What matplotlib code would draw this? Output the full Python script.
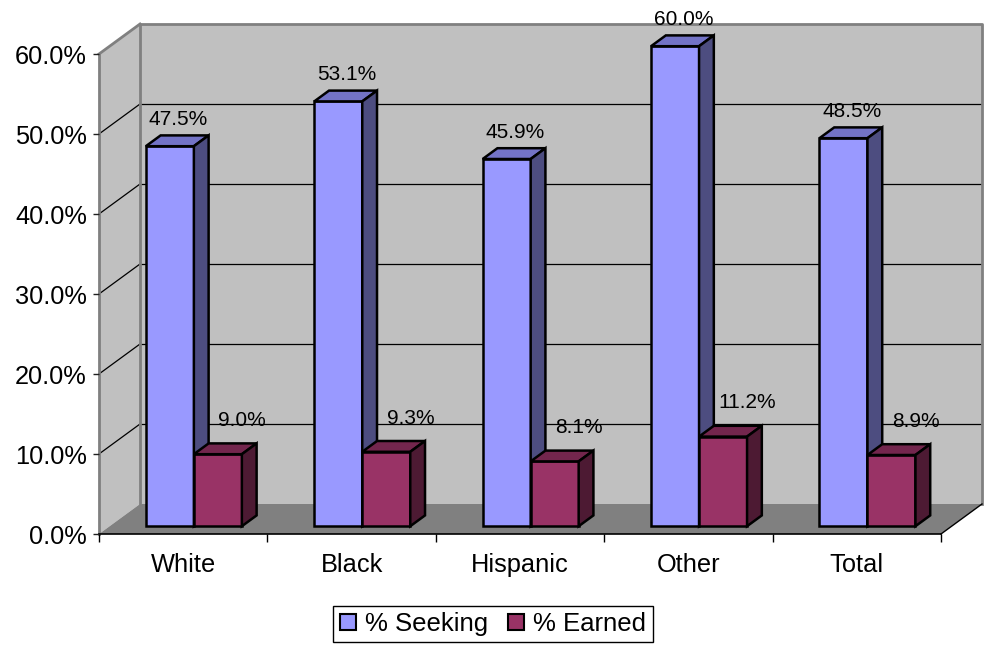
import matplotlib
matplotlib.use("Agg")
import matplotlib.pyplot as plt
from matplotlib.patches import Polygon, Patch

plt.rcParams['font.family'] = ['Liberation Sans', 'DejaVu Sans']

categories = ["White", "Black", "Hispanic", "Other", "Total"]
seeking = [47.5, 53.1, 45.9, 60.0, 48.5]
earned = [9.0, 9.3, 8.1, 11.2, 8.9]
series_names = ["% Seeking", "% Earned"]
yticks = [0, 10, 20, 30, 40, 50, 60]

# colours: front, top, side
seek_cols = ("#9999FF", "#7373C6", "#4D4D80")
earn_cols = ("#993366", "#73264D", "#4D1A33")

W, H = 989, 656
fig = plt.figure(figsize=(W / 100, H / 100), dpi=100)
fig.patch.set_facecolor("white")
# front plane of the 3D box
ax = fig.add_axes([99 / W, (H - 534) / H, 842 / W, 480 / H])
n = len(categories)
ax.set_xlim(0, n)
ax.set_ylim(0, 60)

px_x = 842 / n      # pixels per category unit
px_y = 480 / 60     # pixels per percent
DX, DY = 41 / px_x, 30 / px_y   # depth of the box (data units)

def poly(pts, fc, ec="none", lw=0, z=1):
    p = Polygon(pts, closed=True, facecolor=fc, edgecolor=ec, linewidth=lw,
                zorder=z, clip_on=False, joinstyle="miter")
    ax.add_patch(p)

ymax = 60
# back wall
poly([(DX, DY), (n + DX, DY), (n + DX, ymax + DY), (DX, ymax + DY)], "#C0C0C0", z=0.5)
# left wall
poly([(0, 0), (DX, DY), (DX, ymax + DY), (0, ymax)], "#C0C0C0", z=0.5)
# floor
poly([(0, 0), (n, 0), (n + DX, DY), (DX, DY)], "#808080", z=0.6)

# gridlines
for t in yticks[1:-1]:
    ax.plot([DX, n + DX], [t + DY, t + DY], color="black", lw=0.9, zorder=0.7, clip_on=False)
    ax.plot([0, DX], [t, t + DY], color="black", lw=0.9, zorder=0.7, clip_on=False)

# wall borders (gray)
g = "#808080"
ax.plot([DX, DX, n + DX, n + DX], [DY, ymax + DY, ymax + DY, DY], color=g, lw=2, zorder=0.8, clip_on=False)
ax.plot([0, DX], [ymax, ymax + DY], color=g, lw=2, zorder=0.8, clip_on=False)
ax.plot([0, 0], [0, ymax], color=g, lw=2, zorder=0.8, clip_on=False)
# floor right edge and front axis line
ax.plot([n, n + DX], [0, DY], color="black", lw=1, zorder=0.9, clip_on=False)
ax.plot([0, n], [0, 0], color="black", lw=1.2, zorder=0.9, clip_on=False)

# bars
w = 48 / px_x
f0 = 0.26
fd = 0.36
ox, oy = f0 * DX, f0 * DY
bdx, bdy = fd * DX, fd * DY

def bar3d(x0, x1, v, cols, z):
    front, top, side = cols
    y0, y1 = oy, oy + v
    kw = dict(ec="black", lw=1.8, z=z)
    poly([(x0, y0), (x1, y0), (x1, y1), (x0, y1)], front, **kw)
    poly([(x0, y1), (x1, y1), (x1 + bdx, y1 + bdy), (x0 + bdx, y1 + bdy)], top, **kw)
    poly([(x1, y0), (x1 + bdx, y0 + bdy), (x1 + bdx, y1 + bdy), (x1, y1)], side, **kw)

for i, (s, e) in enumerate(zip(seeking, earned)):
    c = i + 0.5 + ox
    bar3d(c - w, c, s, seek_cols, 2 + i * 2)
    bar3d(c, c + w, e, earn_cols, 3 + i * 2)
    ax.text(c - w / 2 + bdx / 2 + 1 / px_x, oy + s + bdy + 15.6 / px_y, f"{s:.1f}%",
            ha="center", va="center", fontsize=15, color="black", zorder=20)
    ax.text(c + w / 2 + bdx / 2 + 17 / px_x, oy + e + bdy + 23 / px_y, f"{e:.1f}%",
            ha="center", va="center", fontsize=15, color="black", zorder=20)

# axes styling
for sp in ax.spines.values():
    sp.set_visible(False)
ax.patch.set_visible(False)
ax.set_yticks(yticks)
ax.set_yticklabels([f"{t:.1f}%" for t in yticks], fontsize=18.3)
ax.tick_params(axis="y", length=4.3, width=1, color="#202020", pad=4.5)
ax.set_xticks(range(n + 1))
ax.set_xticklabels([""] * (n + 1))
ax.set_xticks([i + 0.5 for i in range(n)], minor=True)
ax.set_xticklabels(categories, minor=True, fontsize=18.3)
ax.tick_params(axis="x", which="major", length=5.8, width=1, color="black")
ax.tick_params(axis="x", which="minor", length=0, pad=13.5)

handles = [Patch(facecolor=seek_cols[0], edgecolor="black", linewidth=1.5),
           Patch(facecolor=earn_cols[0], edgecolor="black", linewidth=1.5)]
leg = fig.legend(handles, series_names, loc="center", bbox_to_anchor=(493 / W, 1 - 624 / H),
                 ncol=2, fontsize=18.5, frameon=True, fancybox=False, framealpha=1,
                 edgecolor="black", handlelength=0.64, handleheight=0.6,
                 handletextpad=0.35, columnspacing=0.75, borderpad=0.25, borderaxespad=0)
leg.get_frame().set_linewidth(1)

fig.savefig("out.png", dpi=100)
